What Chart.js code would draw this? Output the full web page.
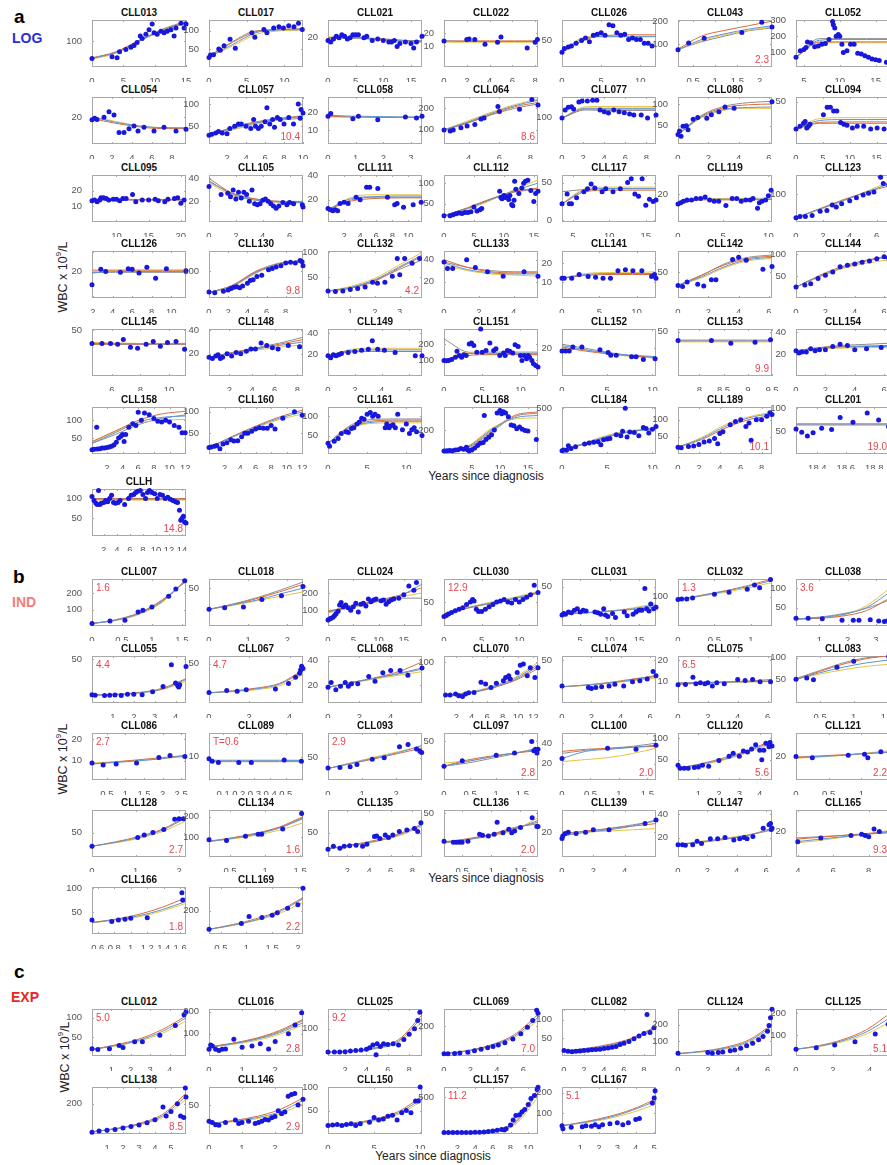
<!DOCTYPE html>
<html>
<head>
<meta charset="utf-8">
<script src="https://cdn.jsdelivr.net/npm/chart.js@4.4.1/dist/chart.umd.min.js"></script>
<style>
  body { margin:0; background:#fff; width:887px; height:1165px; overflow:hidden; position:relative; font-family:"Liberation Sans", Arial, sans-serif; }
  canvas { position:absolute; }
  .ttl { position:absolute; width:94px; text-align:center; font-weight:bold; font-size:10px; line-height:12px; color:#111; white-space:nowrap; }
  .lab { position:absolute; white-space:nowrap; }
  .rot { position:absolute; white-space:nowrap; font-size:12.5px; color:#222; transform:translate(-50%,-50%) rotate(-90deg); }
  .xl { position:absolute; white-space:nowrap; font-size:12px; color:#222; transform:translate(-50%,-50%); }
</style>
</head>
<body>
<div class="lab" style="left:14px;top:7px;font:bold 19px/19px 'Liberation Sans',Arial">a</div>
<div class="lab" style="left:12px;top:31px;font:bold 14px/14px 'Liberation Sans',Arial;color:#2b2bd9">LOG</div>
<div class="lab" style="left:13px;top:567px;font:bold 19px/19px 'Liberation Sans',Arial">b</div>
<div class="lab" style="left:12px;top:595px;font:bold 14px/14px 'Liberation Sans',Arial;color:#f47c7c">IND</div>
<div class="lab" style="left:14px;top:962px;font:bold 19px/19px 'Liberation Sans',Arial">c</div>
<div class="lab" style="left:11px;top:990px;font:bold 14px/14px 'Liberation Sans',Arial;color:#e8251e">EXP</div>
<div class="rot" style="left:62px;top:277px">WBC x 10<sup style="font-size:8px">9</sup>/L</div>
<div class="rot" style="left:62px;top:759px">WBC x 10<sup style="font-size:8px">9</sup>/L</div>
<div class="rot" style="left:64px;top:1057px">WBC x 10<sup style="font-size:8px">9</sup>/L</div>
<div class="xl" style="left:486px;top:476px">Years since diagnosis</div>
<div class="xl" style="left:486px;top:878px">Years since diagnosis</div>
<div class="xl" style="left:433px;top:1156px">Years since diagnosis</div>
<script>
// ---------- panel a (LOG) ----------
const namesA = ['CLL013','CLL017','CLL021','CLL022','CLL026','CLL043','CLL052',
  'CLL054','CLL057','CLL058','CLL064','CLL077','CLL080','CLL094',
  'CLL095','CLL105','CLL111','CLL112','CLL117','CLL119','CLL123',
  'CLL126','CLL130','CLL132','CLL133','CLL141','CLL142','CLL144',
  'CLL145','CLL148','CLL149','CLL151','CLL152','CLL153','CLL154',
  'CLL158','CLL160','CLL161','CLL168','CLL184','CLL189','CLL201','CLLH'];
const xRangeA = [[0,15],[0,12.5],[0,17],[0,8.25],[0,12],[0.16,2.28],[3.9,17],
  [0,9.4],[0.1,10],[0,3.4],[2.4,8.5],[0,8.9],[0,6.2],[0,17.5],
  [6.2,20.8],[0,7],[0,11.7],[0,15.7],[3.5,16.4],[0,10.4],[0,7],
  [1.9,11.5],[0,9.8],[0.1,3.9],[0,5.4],[0,12.6],[0,6.2],[0,6.4],
  [4.6,11.2],[0.2,8.5],[0,7],[0,12.3],[0,10.4],[7.56,9.5],[0,6.4],
  [0.1,12.1],[0,12.1],[0,12],[0,16.8],[0,10.4],[0,9],[18.25,18.91],[0.2,14.6]];
const yRangeA = [[0,180],[0,130],[0,32],[-6,30],[0,89],[0,205],[10,300],
  [5,31],[10,116],[2,29],[35,250],[40,145],[8,116],[5,55],
  [0,30],[2,43],[2,40],[5,120],[-2,60],[0,34],[35,145],
  [2,34],[0,175],[8,103],[5,48],[1.5,26.5],[5,87],[0,108],
  [2,51],[1,41],[0,44],[6,290],[0,34],[0,53],[0,43],
  [5,137],[2,111],[2,124],[0,390],[0,515],[0,137],[1,103],[5,124]];
const xTicksA = [[0,5,10,15],[0,5,10],[0,5,10,15],[0,2,4,6,8],[0,5,10],[0.5,1,1.5,2],[5,10,15],
  [0,2,4,6,8],[2,4,6,8,10],[0,1,2,3],[4,6,8],[0,2,4,6,8],[0,2,4,6],[0,5,10,15],
  [10,15,20],[0,2,4,6],[2,4,6,8,10],[0,5,10,15],[5,10,15],[0,5,10],[0,2,4,6],
  [2,4,6,8,10],[0,2,4,6,8],[1,2,3],[0,2,4],[0,5,10],[0,2,4,6],[0,2,4,6],
  [6,8,10],[2,4,6,8],[0,2,4,6],[0,5,10],[0,5,10],[8,8.5,9,9.5],[0,2,4,6],
  [2,4,6,8,10,12],[2,4,6,8,10,12],[0,5,10],[5,10,15],[0,5,10],[0,2,4,6,8],[18.4,18.6,18.8],[2,4,6,8,10,12,14]];
const yTicksA = [[100],[50,100],[20],[10,20],[50],[100,200],[100,200,300],
  [20],[50,100],[10,20],[100,200],[100],[50,100],[50],
  [10,20],[20,40],[20,40],[50,100],[0,50],[20],[100],
  [20],[100],[50,100],[20,40],[10,20],[50],[50,100],
  [50],[20,40],[20,40],[100,200],[20],[50],[20,40],
  [50,100],[50,100],[50,100],[200],[500],[50,100],[50,100],[50,100]];
const pointsA = [
  /*CLL013*/[0,33,3.2,39,4,35,4.4,58,5.4,67,6.2,76,6.7,82,7.2,94,7.7,119,8,109,8.6,125,9.1,143,9.6,165,9.9,131,10.4,125,11,137,11.5,131,12,137,12.6,143,13.1,119,13.4,149,14.2,168,14.7,149,15,165],
  /*CLL017*/[0,26,0.2,33,0.6,34,1.3,50,1.5,46,2,59,2.8,77,3.5,52,5.7,95,6.1,82,7.3,104,7.7,95,8.6,108,9.3,111,9.9,108,10.6,114,11.3,111,11.9,121,12.4,104],
  /*CLL021*/[0,18,0.5,17,1,19,1.5,21,2,20,2.5,22,3,21,3.5,19,4,20,4.5,22,5,22,5.5,22,6.5,20,7,21,8,18,9,19,10,18,11,17,11.5,17,12,18,12.5,14,13,16,14,17,15,16,15.5,13,16,17,17,21],
  /*CLL022*/[0,14,2,15,2.2,15.5,2.7,15,3.6,11.5,4.7,13,5,17,7.3,8.5,8,13,8.2,15],
  /*CLL026*/[0,28,0.3,35,0.8,38,1.2,40,1.8,45,2.5,50,3,55,3.5,48,4,60,4.5,62,5,65,5.5,60,6,80,6.5,78,7,65,7.5,60,8,62,8.5,52,9,55,9.5,52,10,52,10.5,45,11,45,11.5,40],
  /*CLL043*/[0.16,75,0.4,105,0.75,125,1.6,150,2.05,195,2.28,175],
  /*CLL052*/[3.9,70,4.5,110,5,118,5.3,130,5.5,165,6,160,6.5,135,7,140,7.5,150,8,155,8.5,180,9,290,9.1,270,9.3,250,9.5,200,9.8,210,10,200,10.3,150,10.5,100,11,110,11.5,150,12,150,12.5,95,13,90,13.5,80,14,70,14.5,60,15,55,15.5,50,16.5,40],
  /*CLL054*/[0,18.4,0.27,19.3,0.5,18.5,1.2,19.8,1.7,22.8,2.2,21,2.7,11.3,3.2,11.3,3.7,13.4,4.2,14.9,4.6,12.2,5.2,14.3,6.2,12.2,7.2,14.3,8.4,12.2,9.4,13.1],
  /*CLL057*/[0.1,30,0.4,32,0.8,35,1.1,38,1.5,35,2,33,2.3,45,2.8,50,3.2,55,3.5,55,4,50,4.5,45,4.8,65,5,50,5.3,45,5.6,50,6,60,6.2,92,6.5,55,6.8,65,7,48,7.3,70,7.6,65,8,55,8.5,70,9,55,9.5,100,9.7,68,9.8,88,10,80],
  /*CLL058*/[0,18,0.1,19.5,0.9,16.5,1.1,18,1.8,16,2.8,17.5,3.2,17,3.4,18],
  /*CLL064*/[2.4,99,2.8,94,3,99,3.5,109,3.9,117,4.4,124,4.8,149,5,154,5.9,206,6,184,7.3,194,8.1,238,8.5,213],
  /*CLL077*/[0,98,0.3,116,0.6,122,0.9,123,1.1,118,1.6,134,1.9,136,2.4,136,2.9,138,3.3,138,3.6,116,4,112,4.4,109,4.9,116,5.4,112,5.9,110,6.4,107,6.8,105,7.5,105,8.1,98,8.9,105],
  /*CLL080*/[0,30,0.1,38,0.2,26,0.33,49,0.55,50,0.66,41,1,65,1.3,69,1.9,67,2.2,75,2.7,82,3.1,93,3.7,90,6.2,105],
  /*CLL094*/[0,21,0.75,24,1.4,27,1.7,29,2,22,2.3,24,2.6,26,5.1,36,5.8,44,6.4,44,7,40,7.6,40,8.3,28,8.9,26,9.5,25,10.5,22,11.4,24,12.6,24,13.9,21,15.1,22,16.4,21],
  /*CLL095*/[6.2,13.5,6.6,14,7,13,7.4,14,7.6,15.5,8,15.5,8.4,15,8.8,14,9.5,14.5,10,14.5,10.5,13.5,11,15,11.5,15,12.5,17.5,13,13,14,14,15,14,16,14.5,16.5,13.5,17.5,13,18,14.5,19,15,19.5,15.5,20,12,20.5,14],
  /*CLL105*/[0,33,0.9,26,1.4,27,1.6,24,1.8,30,2,22,2.2,28,2.4,23,2.6,28,2.8,26,3,20,3.2,30,3.4,18,3.6,17,3.8,18,4,21,4.2,22,4.4,20,4.6,18,4.8,16,5,14,5.2,16,5.5,19,5.8,17,6,19,6.3,18,7,15,6.95,17],
  /*CLL111*/[0,13,0.3,12,0.6,11,0.9,12,1.2,11,1.5,17,2,18,2.5,17,3.5,22,4,20,4.8,30,5.2,30,6.2,29,7.4,22,8.3,16,8.6,17,9.4,14,10.6,16,11.6,18],
  /*CLL112*/[0,20,1,20,1.5,23,2,25,2.5,27,3,26,3.5,28,4,28,4.5,30,5,42,5.5,32,6,35,6.3,38,9.3,80,9.5,65,9.7,62,10,70,10.2,65,10.5,67,10.8,60,11,70,11.3,48,11.5,45,11.7,58,11.8,105,12,85,12.5,75,13,88,13.3,100,13.6,105,14,107,14.5,82,15,55,15.3,75,15.7,80],
  /*CLL117*/[3.5,22,4.2,35,4.5,22,4.8,22,5.5,30,6.5,38,7,42,7.5,48,8,43,9,38,9.5,42,10.5,38,11.5,42,12.5,50,13,55,13.5,35,14,32,14.5,55,15,20,15.5,28,16,25,16.4,27],
  /*CLL119*/[0,13,0.3,14,0.6,15,1,16,1.5,16,2,17,2.5,17,3,18,3.5,16,4,15,4.5,15,5.3,12,6,17,6.5,17,7,15,7.5,16,8,16,8.3,17,8.8,10,9,14,9.3,15,9.7,16,10,19,10.3,23],
  /*CLL123*/[0,45,0.3,48,0.7,48,1.2,50,1.8,60,2.3,62,2.7,75,3,70,3.4,78,4,85,4.5,92,5,98,5.4,102,5.8,105,6.3,140,6.5,125,6.9,122],
  /*CLL126*/[1.9,11,2.8,21.5,3.3,20,4.8,19.5,5.6,22,6,21.5,6.7,19,7.5,23,8.4,15.5,9.5,22,11.5,20.5],
  /*CLL130*/[0,22,0.6,20,1.5,25,2,30,2.3,35,2.6,40,2.9,42,3.2,38,3.5,45,4,55,4.3,65,4.6,68,5,80,5.5,85,6.2,105,6.6,110,7,115,7.5,120,8,130,8.5,133,9,130,9.5,140,9.7,135,9.8,120],
  /*CLL132*/[0.1,22,0.4,21,0.7,22,1,25,1.3,27,1.6,30,1.9,40,2.1,38,2.4,40,2.7,52,2.9,88,3,55,3.2,88,3.5,78,3.8,88],
  /*CLL133*/[0,38,0.2,32,0.5,32,1.3,40,1.8,33,2.5,29,3.4,25,4.6,29,5.4,25],
  /*CLL141*/[0,12,0.3,12,1.3,12,2.3,14,3.5,13,4.5,12.5,5.5,12,6.5,12,7.5,16,8.5,16.5,9.5,16,10.7,16,12,13,12.4,14,12.6,12],
  /*CLL142*/[0,27,0.3,25,0.6,33,1.3,29,1.7,26,2.2,37,2.5,37,3.6,72,4,76,4.5,71,5.6,55,6.2,60],
  /*CLL144*/[0,25,0.6,30,1,33,1.5,45,2,52,2.5,60,3,72,3.5,75,4,78,4.5,82,5,85,5.5,90,6,95,6.3,92],
  /*CLL145*/[4.6,36,5.3,36,5.9,36,6.4,35,6.8,40,7.3,32,7.8,31,8.4,35,8.9,38,9.4,33,9.9,37,10.5,38,11.1,30],
  /*CLL148*/[0.2,17,0.5,16,0.8,18,1,19,1.2,16,1.4,17,1.8,20,2.2,18,2.6,21,3,20,3.5,22,3.9,24,4.3,24,4.8,29,5.3,27,5.8,25,6.3,24,7.2,27,8.2,26],
  /*CLL149*/[0,19,0.2,17,0.4,20,0.6,19,0.8,20,1,21,1.5,22,2,23,2.5,24,3,25,3.3,33,3.7,25,4.2,24,5,22,6.5,19,7,19],
  /*CLL151*/[0,100,0.3,98,0.6,100,1,105,1.5,120,1.7,155,2,130,2.3,120,2.6,135,2.9,130,3.3,200,3.6,205,3.9,190,4.3,150,4.8,290,5,150,5.5,160,6,205,6.5,160,6.8,170,7.3,130,7.8,145,8,130,8.3,160,8.6,155,9,145,9.3,195,9.7,185,10,130,10.2,100,10.5,130,10.8,110,11,130,11.2,120,11.5,100,11.7,80,12,70,12.3,60],
  /*CLL152*/[0,18,0.4,18,0.8,18,1.2,21,2.2,21,4.2,19,5.1,17,5.4,15,6,15,7.7,14,8.2,14,9,12,10.3,12.5],
  /*CLL153*/[7.56,40,8.25,40,8.65,37,9.15,38,9.47,41],
  /*CLL154*/[0,23,0.2,21,0.4,22,0.7,22,1,25,1.3,23,1.6,24,2,24,2.5,27,3,29,3.5,28,4,24,4.8,25,5.8,26,6.4,27],
  /*CLL158*/[0.1,17,0.4,18,0.7,80,0.8,19,1.1,20,1.4,22,1.7,22,2,23,2.3,25,2.6,27,2.9,30,3.2,38,3.5,50,3.8,55,4,60,4.2,40,4.4,60,4.8,80,5.3,90,5.7,85,6,122,6.4,100,6.8,120,7.4,115,8,105,8.5,97,9,95,9.5,100,10,95,10.6,85,11.2,80,11.6,65,12,65],
  /*CLL160*/[0,17,0.3,18,0.7,20,1,22,1.4,14,1.8,25,2.3,28,2.8,35,3.2,32,3.7,33,4.2,42,4.6,50,5,50,5.5,55,6,60,6.5,63,7,62,7.5,62,8,68,8.5,60,9.5,85,11,100,12,92],
  /*CLL161*/[0,30,0.2,22,0.8,35,1.3,42,1.7,55,2.3,60,2.6,58,3,68,3.3,70,3.7,80,4,85,4.3,95,4.6,92,5,105,5.4,110,5.7,100,6,105,6.4,100,7.3,70,7.5,80,7.8,70,8,75,8.3,78,8.6,70,8.9,105,9.5,65,10,80,10.4,55,10.7,65,11,70,11.3,60,12,50],
  /*CLL168*/[0,25,0.5,27,1,30,1.5,28,2,33,2.5,35,3,45,3.5,40,4,55,4.2,35,4.5,25,5,35,5.5,50,6,70,6.5,90,7,95,7.2,320,7.5,120,8,140,8.5,160,9,200,9.5,340,10,360,10.3,335,10.6,350,11,340,11.5,310,12,240,12.5,235,13,210,13.5,225,14,205,14.5,195,15,190,16.5,120],
  /*CLL184*/[0,35,0.2,45,0.5,40,0.7,90,1,60,1.5,80,2.5,110,3,120,3.5,130,4,135,4.3,100,4.6,155,5,165,5.3,170,6,210,6.5,200,6.7,250,7,500,7.2,185,7.5,240,8,235,8.5,200,9,290,9.3,280,9.6,230,10,270,10.4,300],
  /*CLL189*/[0,20,0.3,18,1,22,1.5,23,2,28,2.5,35,3,38,3.5,45,3.8,30,4,60,4.3,65,5,85,5.5,95,6,100,6.5,80,6.8,90,7,40,7.5,100,8,100,8.5,110,8.8,120,9,115],
  /*CLL201*/[18.25,55,18.29,48,18.33,40,18.37,47,18.43,57,18.5,54,18.56,80,18.65,70,18.75,90,18.83,75,18.9,60],
  /*CLLH*/[0.2,105,0.5,95,0.8,88,1,85,1.2,120,1.4,85,1.6,88,2,90,2.3,95,2.6,92,2.9,100,3.2,108,3.5,90,3.8,88,4.2,90,4.5,95,5.2,85,5.8,100,6.2,108,6.6,110,6.9,115,7.2,118,7.6,120,8,110,8.4,100,8.7,115,9,120,9.4,115,9.8,112,10.2,100,10.6,110,11,108,11.4,100,11.8,103,12.2,98,12.6,95,13,92,13.3,90,13.6,70,13.8,45,14,50,14.2,55,14.4,40,14.6,38]
];
// fitted model curves, each sampled at 5 evenly spaced times across the axis
const fitsA = [
  [[33,55,100,140,170],[35,58,102,142,172],[30,52,98,138,168],[33,56,100,145,175]],
  [[28,62,95,103,105],[30,68,98,104,106],[28,58,90,100,103],[30,70,100,102,102]],
  [[20,20,19,18,17.5],[19.5,20,19.5,18.5,17],[20.5,20,18.5,17.5,17],[20,19.5,19,18,18]],
  [[14,13.5,13.5,13.5,13.5],[14,14,14,14,14],[13,13,13,13,13]],
  [[28,55,58,58,58],[28,52,60,61,61],[28,57,57,57,57]],
  [[75,120,145,165,180],[78,135,160,180,200],[75,115,140,160,175],[76,110,135,158,170]],
  [[70,175,180,180,180],[70,165,165,165,165],[70,160,160,160,160],[70,185,185,185,185]],
  [[20,17,15,14,14],[19,16.5,14.5,13.5,13.5],[20,17.5,15,14,13.5]],
  [[30,45,58,66,72],[30,48,60,68,73],[30,42,55,65,75],[30,46,57,64,68]],
  [[18.5,18,17.8,17.6,17.5],[18,17.5,17.3,17.2,17.2],[17.5,17.5,17.5,17.5,17.5]],
  [[100,135,175,210,235],[98,130,170,205,225],[100,140,180,215,240],[100,132,168,198,218]],
  [[98,120,120,120,120],[98,118,118,118,118],[98,123,124,124,124],[98,116,115,115,115]],
  [[30,70,88,92,93],[30,72,92,98,100],[30,68,86,90,90],[30,74,95,103,106]],
  [[21,30,31,31,31],[21,28,28.5,28.5,28.5],[21,32,33,33,33],[21,27,27,27,27]],
  [[14,14.2,14.3,14.3,14.3],[13.8,14,14,14,14],[14.5,14.5,14.5,14.5,14.5]],
  [[38,26,21,19.5,19],[40,27,22,20,19.5],[36,25,21,19,18.5],[37,27,22,20,20]],
  [[12,21,22.5,23,23],[12,19,21,21.5,21.5],[12,22,24,24,24],[12,20,22,22,22]],
  [[20,38,60,82,100],[20,40,62,80,88],[20,36,58,84,108],[20,39,61,78,85]],
  [[22,40,42,42,42],[22,38,40,40,40],[22,42,44,44,44],[38,41,42,42,42]],
  [[13,16.5,16.5,16.5,16.5],[13,16,16,16,16.5],[13,17,17,17,17.5]],
  [[45,65,85,105,125],[45,66,87,105,120],[45,64,84,107,130]],
  [[19,20,20,20,20],[21,21,21,21,21],[20,20.5,20.5,20.5,20.5],[19.5,19.5,19.5,19.5,19.5]],
  [[20,45,95,128,140],[20,48,100,130,138],[20,42,92,126,142],[20,46,97,125,135]],
  [[22,30,45,70,95],[22,28,42,68,92],[22,32,48,74,100],[22,29,44,65,85]],
  [[37,31,28,27,27],[40,33,29,28,28],[35,30,27,26,25],[38,33,30,29,29]],
  [[12,14,14.5,14.5,14.5],[12,13.5,14,14,14],[12,14.5,15,15,15.5]],
  [[27,42,60,72,76],[27,45,63,74,78],[27,40,58,70,74],[27,44,65,76,80]],
  [[25,50,70,85,95],[25,52,73,87,97],[25,48,68,80,88]],
  [[36,35.5,35.5,35.5,35.5],[35,35,35,35,35],[37,36.5,36,36,36],[36,36,35.8,35.8,35.8]],
  [[17,20.5,24,27,30],[17,21,24.5,28,32],[17,20,23,25.5,27.5],[17,21,25,29,34]],
  [[19,24,24.5,24.5,24.5],[19,23,23,23,23],[19,25,26,26,26],[19,22.5,23,23,23]],
  [[100,140,145,145,145],[100,130,135,135,135],[100,150,152,152,152],[230,150,140,140,140]],
  [[22,19,16.5,15,14],[21,18,16,14.5,13.5],[20,18.5,16,14,13],[23,20,17,14.5,13]],
  [[39.5,39.5,39.5,39.5,39.5],[40.5,40.5,40.5,40.5,40.5],[38.5,38.5,38.5,38.5,38.5]],
  [[23,25.5,26.5,27,27],[23,26,27,27.5,28],[23,25,25.5,26,26],[23,26,28,29,30]],
  [[35,65,95,108,112],[40,70,100,118,125],[38,68,92,100,102],[35,60,88,105,115]],
  [[17,42,65,85,100],[17,43,67,88,104],[17,41,63,82,95]],
  [[30,72,85,87,87],[30,75,88,90,90],[30,70,82,83,83],[30,78,92,93,93]],
  [[30,60,200,300,320],[30,55,190,320,350],[30,65,210,290,300],[30,50,180,310,340]],
  [[40,120,200,250,270],[40,110,190,250,285],[40,125,210,260,275]],
  [[20,45,80,105,118],[20,42,75,100,112],[20,48,85,108,122]],
  [[66,66,66,66,66],[64,64,64,64,64],[67,67,67,67,67]],
  [[98,98,98,98,98],[100,100,100,100,100],[96,96,96,96,96]]
];
const notesA = { CLL043:['2.3','br'], CLL057:['10.4','br'], CLL064:['8.6','br'], CLL130:['9.8','br'], CLL132:['4.2','br'],
  CLL153:['9.9','br'], CLL189:['10.1','br'], CLL201:['19.0','br'], CLLH:['14.8','br'] };

// ---------- panel b (IND) ----------
const namesB = ['CLL007','CLL018','CLL024','CLL030','CLL031','CLL032','CLL038',
  'CLL055','CLL067','CLL068','CLL070','CLL074','CLL075','CLL083',
  'CLL086','CLL089','CLL093','CLL097','CLL100','CLL120','CLL121',
  'CLL128','CLL134','CLL135','CLL136','CLL139','CLL147','CLL165',
  'CLL166','CLL169'];
const xRangeB = [[0,1.57],[0,2.4],[0,18.6],[0,12.5],[1.9,17.9],[0,1.29],[0.17,3.5],
  [0,4.5],[0,4.67],[0,6],[0.4,12.6],[0,6.4],[0,6.3],[0.14,1.54],
  [0.1,2.63],[0.01,0.61],[0,2.76],[0,1.8],[0,1.65],[0,4.6],[0,1.44],
  [0,2.16],[0.2,1.54],[0.2,8.9],[0.19,1.8],[0,6],[0,6.4],[3.9,9.2],
  [0.53,1.67],[0.27,2.1]];
const yRangeB = [[0,285],[0,62],[10,280],[0,98],[0,60],[0,160],[2,124],
  [0,54],[0,60],[5,44],[0,116],[0,55],[0,22],[-5,104],
  [1,23],[0,20],[0,106],[0,61],[4,50],[3,112],[0,40],
  [0,96],[5,232],[0,96],[0,54],[0,38],[3.5,43.5],[0,37],
  [4,102],[0,400]];
const xTicksB = [[0,0.5,1,1.5],[0,1,2],[0,5,10,15],[0,5,10],[5,10,15],[0,0.5,1],[1,2,3],
  [1,2,3,4],[0,2,4],[0,2,4],[2,4,6,8,10,12],[0,2,4,6],[0,2,4,6],[0.5,1,1.5],
  [0.5,1,1.5,2,2.5],[0.1,0.2,0.3,0.4,0.5],[0,1,2],[0,0.5,1,1.5],[0,0.5,1,1.5],[1,2,3,4],[0,0.5,1],
  [0,1,2],[0.5,1,1.5],[2,4,6,8],[0.5,1,1.5],[0,2,4],[0,2,4,6],[4,6,8],
  [0.6,0.8,1,1.2,1.4,1.6],[0.5,1,1.5,2]];
const yTicksB = [[100,200],[50],[100,200],[50],[50],[100],[50,100],
  [50],[50],[20,40],[100],[50],[10,20],[50,100],
  [10,20],[10],[50],[50],[20,40],[50,100],[20],
  [50],[100,200],[50],[50],[20],[20,40],[20],
  [50,100],[200]];
const pointsB = [
  /*CLL007*/[0,15,0.3,30,0.55,35,0.77,85,0.85,95,1,115,1.28,180,1.4,225,1.55,275],
  /*CLL018*/[0,22,0.4,24,0.88,25,1.35,35,1.85,40,2.4,52],
  /*CLL024*/[0,45,0.3,50,0.6,55,1,60,1.3,70,1.6,80,2,95,2.3,130,2.6,145,3,120,3.5,130,4,115,4.5,100,5,120,5.5,140,6,90,6.5,135,7,140,7.5,125,8,165,8.5,150,9,160,9.5,165,10.5,155,11,160,11.5,135,12,150,12.5,160,13,165,14,170,15,190,16,240,17,215,17.5,260],
  /*CLL030*/[0,20,0.3,22,0.6,25,1,28,1.5,32,2,35,2.5,38,3,45,3.5,50,3.8,55,4,52,4.3,35,4.6,30,5,30,5.5,35,6,40,6.5,45,7,50,7.5,52,8,55,8.5,50,9,48,9.5,55,10,50,10.5,55,11,60,11.5,65,12,85,12.5,70],
  /*CLL031*/[1.9,14,2.2,16,2.5,15,3,18,3.5,17,4,20,4.5,22,5,18,5.5,20,6,19,7.5,18,8,17,8.5,15,9,22,9.3,14,9.7,12,10.5,16,11,11,12.5,18,13,13,14,15,14.5,18,15,20,15.5,20,16,48,16.3,22,16.7,19,17,28,17.5,22,17.9,24],
  /*CLL032*/[0,90,0.05,92,0.12,92,0.2,95,0.5,108,0.7,115,0.95,125,1.05,140,1.12,130,1.27,158],
  /*CLL038*/[0.17,22,0.6,22,1.1,21,1.8,17,2.2,17,2.4,17,2.8,18,3.1,15,3.3,14,3.4,15,3.5,17],
  /*CLL055*/[0,9.5,0.15,9,0.6,8.5,0.85,9,1.1,9.2,1.4,8.5,1.7,10,2,10,2.4,9.5,2.9,13,3.4,19,3.8,44,4,23,4.1,20,4.15,18.5,4.2,21,4.5,42],
  /*CLL067*/[0,13.5,0.88,16,1.4,15,1.85,17,3.3,18,3.95,25,4.3,33,4.5,38,4.55,42,4.6,47,4.67,44],
  /*CLL068*/[0,18,0.2,22,0.5,16,0.8,19,1.1,22,1.3,19,1.5,21,1.9,21,2.6,27,3,23,3.5,30,4,32,4.6,32,5.1,28,6,34],
  /*CLL070*/[0.6,20,1.2,20,1.9,22,2.3,18,2.8,16,3.2,22,3.6,25,4.3,26,5.2,51,5.8,47,6.5,38,7.2,49,8.1,55,8.4,63,8.8,67,9,59,9.9,75,10.3,93,10.7,96,11.2,67,11.6,87,12.2,63,12.6,87],
  /*CLL074*/[0,20,1.8,18,2,17,2.3,18,2.7,19,3.2,20,3.6,22,4.2,20,4.8,25,5.3,26,5.8,28,6.2,37,6.4,32],
  /*CLL075*/[0,8.5,0.5,8.7,1,12,1.2,9,1.5,9.5,1.8,9,2,9.5,2.3,8,2.6,9.5,3.1,9,4,11,4.5,10.5,5,11,5.5,10,6.2,10],
  /*CLL083*/[0.14,50,0.3,53,0.4,49,0.75,78,1,92,1.52,103],
  /*CLL086*/[0.1,9,0.4,8,0.75,8.5,1.3,9,1.9,11.5,2.2,12.5,2.6,12],
  /*CLL089*/[0.01,9,0.03,8,0.07,7.5,0.2,7.5,0.28,7.5,0.49,8.5,0.6,8],
  /*CLL093*/[0,27,0.35,28,0.65,30,0.85,35,1.3,47,1.65,50,2.1,75,2.35,80,2.6,70,2.7,65,2.75,62],
  /*CLL097*/[0,18,0.35,25,1,32,1.35,35,1.68,50,1.72,38,1.75,40,1.78,35,1.8,40],
  /*CLL100*/[0,25,0.8,35,1.3,34,1.65,38],
  /*CLL120*/[0,37,0.1,30,0.3,30,0.5,30,0.8,32,1,33,1.2,37,1.5,35,2,48,2.5,58,2.7,65,3,58,3.2,70,3.4,68,3.6,75,3.8,85,4,72,4.1,50,4.2,72,4.3,88,4.45,80,4.5,90,4.6,82],
  /*CLL121*/[0,20,0.25,19,0.8,21,1.05,22,1.1,19,1.3,24,1.44,24],
  /*CLL128*/[0,22,1.05,40,1.2,45,1.4,50,1.65,56,1.9,77,2,78,2.1,78],
  /*CLL134*/[0.2,88,0.45,85,0.72,105,0.9,115,0.95,115,1.25,140,1.52,215],
  /*CLL135*/[0.2,16,0.7,22,1.3,18,1.7,22,2.2,23,2.8,24,3.4,22,3.8,26,4.5,42,4.7,43,5,38,5.5,45,5.8,40,6.2,45,6.8,52,7.5,55,8.2,58,8.5,52,8.8,70],
  /*CLL136*/[0.19,18,0.35,17,0.4,17,0.45,17,0.5,17,0.6,18,0.8,26,0.85,25,0.95,24,1.05,26,1.1,40,1.2,28,1.3,32,1.35,28,1.4,30,1.5,34,1.7,45,1.78,35,1.8,35],
  /*CLL139*/[0,15,0.05,17,0.2,19,0.4,20,0.9,19,1.5,20,2,22,3,22,5.3,27,6,30],
  /*CLL147*/[0,14,0.3,14,0.5,13.5,1,14,1.3,17,1.6,15,2.2,19,2.7,19,3.2,20,3.8,18,4.2,19,4.5,20,4.7,19,5.1,21,5.8,28,6.2,31,6.3,32,6.35,27,6.4,28],
  /*CLL165*/[4,12,5.3,15,7,17,7.6,18,7.8,17,8,16,8.3,22,8.6,20,9.2,20],
  /*CLL166*/[0.53,33,0.77,30,0.85,33,0.93,35,1,37,1.2,38,1.62,90,1.63,75],
  /*CLL169*/[0.27,40,0.9,90,1.05,150,1.3,140,1.5,160,1.6,180,1.8,220,2,250,2.1,390]
];
const fitsB = [
  [[15,35,75,150,280],[15,38,80,155,275],[15,33,70,145,285],[15,36,78,160,270]],
  [[22,28,34,42,50],[22,28,36,45,55],[22,27,33,39,45],[22,29,37,47,58]],
  [[90,120,150,180,250],[95,125,155,185,230],[85,115,145,175,200],[95,120,150,170,170]],
  [[25,38,48,58,70],[25,37,47,57,68],[27,39,50,60,72]],
  [[15,17,19,22,27],[16,17,19,21,24],[15,16.5,19,23,29]],
  [[90,103,118,135,155],[90,105,120,138,160],[90,102,115,130,148]],
  [[20,24,32,50,90],[20,22,28,42,75],[18,23,30,55,100],[20,25,34,48,70]],
  [[9,9.5,11.5,16,27],[9,10,12,17,28],[9.5,10,12,15.5,25]],
  [[13,15,18,24,40],[13,15.5,19,25,42],[13,14.5,17,22,36]],
  [[18,22,25.5,29.5,34],[18,22,26,31,39],[18,21.5,25,28,31],[18,22,25.5,29,33]],
  [[18,25,38,60,95],[18,24,36,57,90],[18,26,40,63,100],[18,25,37,55,85]],
  [[19,21,23.5,27,31],[19,21,24,28,32],[19,20.5,23,26,29]],
  [[9,9.5,9.8,10,10.2],[8.7,9.3,9.8,10.3,11],[9,9.2,9.5,9.8,10],[9.5,9.6,9.8,10,10.3]],
  [[50,65,78,88,95],[50,68,85,98,105],[50,62,72,80,85],[52,70,88,100,104]],
  [[8.5,9.2,10,11,12.5],[8.5,9.5,10.5,11.5,12.5],[9,9.5,10.2,11,12]],
  [[8.2,8.2,8.2,8.2,8.3],[7.8,7.8,7.8,7.8,7.8],[8.5,8.5,8.5,8.5,8.5]],
  [[26,38,50,62,78],[26,37,48,60,72],[26,39,52,64,76]],
  [[18,24,30,35,40],[18,26,31,35,38],[22,25,30,35,41],[18,22,28,34,42]],
  [[25,32,34,36,38],[32,34,35,36,37],[22,24,26,30,35],[30,33,35,37,40]],
  [[30,40,52,70,92],[30,41,55,72,95],[30,39,50,67,88]],
  [[19,20,21,22.5,24],[19.5,20.5,21.5,22.5,23.5],[18.5,19.5,21,23,25]],
  [[22,30,40,55,80],[22,31,42,57,82],[22,29,38,52,74]],
  [[80,95,115,145,190],[82,98,120,150,200],[80,93,110,135,170],[80,96,118,148,195]],
  [[17,24,32,45,65],[17,25,34,47,67],[17,23,31,43,62]],
  [[17,20,25,32,42],[17,21,26,33,40],[18,20,24,31,45],[16,20,26,34,38]],
  [[17,20,22,25,30],[19,21,23,25,27],[18,20,21,22,23],[17,20.5,23,26,29]],
  [[14,16.5,19,22,27],[14,16,18.5,22,28],[14,17,19.5,22.5,26]],
  [[12,14,16,18,20],[14,15.5,17,18.5,20],[11,13,15.5,18,21],[15,16,17,18,19]],
  [[28,34,42,55,72],[28,35,45,60,80],[27,33,40,52,68]],
  [[40,75,120,190,300],[40,80,130,200,310],[40,72,115,175,270]]
];
const notesB = { CLL007:['1.6','tl'], CLL030:['12.9','tl'], CLL032:['1.3','tl'], CLL038:['3.6','tl'], CLL055:['4.4','tl'],
  CLL067:['4.7','tl'], CLL075:['6.5','tl'], CLL086:['2.7','tl'], CLL089:['T=0.6','tl'], CLL093:['2.9','tl'],
  CLL097:['2.8','br'], CLL100:['2.0','br'], CLL120:['5.6','br'], CLL121:['2.2','br'], CLL128:['2.7','br'],
  CLL134:['1.6','br'], CLL136:['2.0','br'], CLL165:['9.3','br'], CLL166:['1.8','br'], CLL169:['2.2','br'] };

// ---------- panel c (EXP) ----------
const namesC = ['CLL012','CLL016','CLL025','CLL069','CLL082','CLL124','CLL125',
  'CLL138','CLL146','CLL150','CLL157','CLL167'];
const xRangeC = [[0,4.85],[0,2.84],[0.4,9.2],[0,7.1],[-0.2,9.2],[0,6.3],[0,5.1],
  [0.06,5.94],[0,2.85],[0,10.2],[0.5,11.1],[0,5.1]];
const yRangeC = [[1,123],[0,212],[0,172],[0,318],[0,130],[14,292],[4,220],
  [0,312],[0,81],[0,100],[0,635],[0,228]];
const xTicksC = [[1,2,3,4],[0,1,2],[2,4,6,8],[0,2,4,6],[0,2,4,6,8],[0,2,4,6],[0,2,4],
  [1,2,3,4,5],[0,1,2],[0,5,10],[2,4,6,8,10],[1,2,3,4,5]];
const yTicksC = [[50,100],[100,200],[100],[200],[50,100],[100,200],[100,200],
  [200],[50],[50,100],[500],[100,200]];
const pointsC = [
  /*CLL012*/[0,20,0.3,18,0.9,20,1.4,28,1.6,23,2.2,38,2.6,38,3.5,55,4.3,80,4.75,108,4.85,115],
  /*CLL016*/[0,30,0.05,50,0.1,45,0.2,30,0.3,25,0.4,30,0.5,32,0.75,75,1,40,1.3,45,1.55,55,1.8,32,2,65,2.4,100,2.6,140,2.8,195],
  /*CLL025*/[0.4,15,1,15,1.5,15,2,16,2.5,18,3,20,3.5,22,4,25,4.3,30,4.6,40,4.9,5,5,45,5.3,35,5.6,45,6,42,6.5,45,7,40,7.5,60,8,80,8.5,100,8.8,130,9,160],
  /*CLL069*/[0,15,0.3,15,0.8,17,1.2,20,1.8,25,2.3,35,2.8,45,3.3,55,3.7,65,4.1,75,4.6,90,5.2,115,5.8,150,6.3,195,6.7,240,7,310,7.1,290],
  /*CLL082*/[0,15,0.4,13,0.8,12,1.2,13,1.6,14,2,15,2.4,16,2.8,17,3.2,18,3.6,19,4,21,4.4,22,4.8,24,5.2,26,5.6,32,6,35,6.5,40,7,48,7.5,55,8,62,8.3,115,8.6,65,9,78],
  /*CLL124*/[0,30,2,35,2.3,30,2.7,35,3,38,3.5,45,3.8,50,4.2,60,4.6,75,5,90,5.4,110,5.7,130,6,160,6.1,195,6.2,240,6.3,290],
  /*CLL125*/[0,35,1.1,42,2.1,55,3.2,70,4.3,105,5,150],
  /*CLL138*/[0.06,12,0.5,20,1,25,1.5,30,2,40,2.5,50,3,60,3.5,75,4,95,4.5,180,4.7,120,5,150,5.4,200,5.6,120,5.8,110,5.9,305,5.94,245],
  /*CLL146*/[0,22,0.1,20,0.2,16,0.3,15,0.5,20,0.8,24,0.9,18,1,20,1.2,22,1.4,18,1.5,20,1.6,22,1.7,25,1.8,24,1.9,28,2,30,2.1,40,2.2,35,2.3,38,2.4,65,2.5,68,2.6,70,2.7,50,2.85,60],
  /*CLL150*/[0,18,0.5,19,1,20,1.5,18,2,20,2.5,22,3,18,3.5,22,4.5,25,5,35,5.5,30,6,32,6.5,38,7,40,7.5,30,8,45,8.5,50,9,45,9.5,70,9.8,70,10,100],
  /*CLL157*/[0.5,20,1,20,1.5,20,2,20,2.5,20,3,20,3.5,20,4,22,4.5,25,5,28,5.5,35,6,40,6.5,50,7,60,7.3,55,7.5,70,8,120,8.3,190,8.6,250,9,260,9.3,300,9.6,330,10,400,10.3,480,10.7,520,11,600,11.1,630],
  /*CLL167*/[0,40,0.05,25,0.5,33,1.1,35,1.3,40,1.6,38,1.8,45,2,35,2.2,45,2.6,50,3,55,3.3,45,3.6,55,4,70,4.2,75,4.9,150,5,175,5.05,210]
];
const fitsC = [
  [[18,28,42,65,100],[18,30,45,70,105],[18,27,40,60,92]],
  [[40,55,75,105,150],[40,58,80,115,165],[38,52,70,98,140],[42,56,78,110,160]],
  [[14,18,28,55,140],[14,19,30,60,150],[14,17,26,50,125]],
  [[15,35,70,135,260],[15,37,75,145,280],[15,33,65,125,240]],
  [[13,20,30,48,80],[13,21,32,50,82],[13,19,28,45,76]],
  [[28,40,60,100,190],[28,42,65,108,200],[28,38,55,92,175]],
  [[35,50,75,115,180],[35,52,80,125,200],[35,48,70,105,160]],
  [[15,35,65,120,250],[15,36,70,130,270],[15,33,60,110,230]],
  [[18,22,28,38,58],[18,23,30,42,62],[18,21,26,35,52]],
  [[17,22,30,45,75],[17,23,32,48,80],[17,21,28,42,70]],
  [[15,20,45,140,560],[15,22,50,160,600],[15,19,40,120,500]],
  [[40,58,80,115,160],[40,60,85,120,170],[40,55,75,105,145]]
];
const notesC = { CLL012:['5.0','tl'], CLL016:['2.8','br'], CLL025:['9.2','tl'], CLL069:['7.0','br'], CLL125:['5.1','br'],
  CLL138:['8.5','br'], CLL146:['2.9','br'], CLL157:['11.2','tl'], CLL167:['5.1','tl'] };

// ---------- layout ----------
const COL_X = [92, 209, 328, 444, 562, 678, 796];
const ROWS_A = [20, 97, 175, 251, 329, 407, 489];
const ROWS_B = [579, 656, 733, 810, 887];
const ROWS_C = [1009, 1087];
const BOX_W = 94, BOX_H = 47, Y_W = 26, X_H = 15, PAD_T = 9, PAD_R = 10;
const FIT_COLORS = ['#5b94d9', '#de6b36', '#e6c340', '#8e8e8e', '#63ad50'];

Chart.defaults.font.family = '"Liberation Sans", Arial, sans-serif';

const framePlugin = {
  id: 'frame',
  beforeDatasetsDraw(chart) {
    const { ctx, chartArea: a, scales } = chart;
    ctx.save();
    ctx.strokeStyle = '#a8a8a8';
    ctx.lineWidth = 1;
    ctx.strokeRect(a.left + 0.5, a.top + 0.5, a.width - 1, a.height - 1);
    ctx.beginPath();
    scales.x.ticks.forEach(t => {
      const px = Math.round(scales.x.getPixelForValue(t.value)) + 0.5;
      ctx.moveTo(px, a.bottom); ctx.lineTo(px, a.bottom - 2);
      ctx.moveTo(px, a.top); ctx.lineTo(px, a.top + 2);
    });
    scales.y.ticks.forEach(t => {
      const py = Math.round(scales.y.getPixelForValue(t.value)) + 0.5;
      ctx.moveTo(a.left, py); ctx.lineTo(a.left + 2, py);
      ctx.moveTo(a.right, py); ctx.lineTo(a.right - 2, py);
    });
    ctx.stroke();
    ctx.restore();
  },
  afterDraw(chart, args, opts) {
    if (!opts.note) return;
    const { ctx, chartArea: a } = chart;
    const [text, corner] = opts.note;
    ctx.save();
    ctx.fillStyle = '#e3474f';
    ctx.font = '10px "Liberation Sans", Arial, sans-serif';
    if (corner === 'tl') {
      ctx.textAlign = 'left'; ctx.textBaseline = 'top';
      ctx.fillText(text, a.left + 4, a.top + 4);
    } else {
      ctx.textAlign = 'right'; ctx.textBaseline = 'bottom';
      ctx.fillText(text, a.right - 3, a.bottom - 2);
    }
    ctx.restore();
  }
};

function makePanel(name, left, top, xr, yr, xt, yt, pts, fits, note) {
  const title = document.createElement('div');
  title.className = 'ttl';
  title.textContent = name;
  title.style.left = left + 'px';
  title.style.top = (top - 13) + 'px';
  document.body.appendChild(title);

  const cv = document.createElement('canvas');
  cv.width = Y_W + BOX_W + PAD_R;
  cv.height = PAD_T + BOX_H + X_H;
  cv.style.left = (left - Y_W) + 'px';
  cv.style.top = (top - PAD_T) + 'px';
  document.body.appendChild(cv);

  const scatter = [];
  for (let k = 0; k < pts.length; k += 2) scatter.push({ x: pts[k], y: pts[k + 1] });
  const datasets = [{ data: scatter, pointRadius: 2.5, pointBackgroundColor: '#1717dd', pointBorderWidth: 0, clip: 4 }];
  fits.forEach((f, j) => datasets.push({
    data: f.map((v, k) => ({ x: xr[0] + (xr[1] - xr[0]) * k / (f.length - 1), y: v })),
    showLine: true, pointRadius: 0, borderColor: FIT_COLORS[j % FIT_COLORS.length], borderWidth: 1,
    cubicInterpolationMode: 'monotone'
  }));

  const tickFont = { size: 9.5 };
  new Chart(cv, {
    type: 'scatter',
    data: { datasets },
    options: {
      responsive: false, animation: false, devicePixelRatio: 1, events: [],
      layout: { padding: { top: PAD_T, right: PAD_R, left: 0, bottom: 0 } },
      plugins: { legend: { display: false }, tooltip: { enabled: false }, frame: { note } },
      scales: {
        x: {
          type: 'linear', min: xr[0], max: xr[1],
          grid: { display: false }, border: { display: false },
          afterBuildTicks: s => { s.ticks = xt.map(v => ({ value: v })); },
          afterFit: s => { s.height = X_H; },
          ticks: { autoSkip: false, maxRotation: 0, padding: 1, color: '#555', font: tickFont, callback: v => String(v) }
        },
        y: {
          type: 'linear', min: yr[0], max: yr[1],
          grid: { display: false }, border: { display: false },
          afterBuildTicks: s => { s.ticks = yt.map(v => ({ value: v })); },
          afterFit: s => { s.width = Y_W; },
          ticks: { autoSkip: false, padding: 2, color: '#555', font: tickFont, callback: v => String(v) }
        }
      }
    },
    plugins: [framePlugin]
  });
}

function drawSection(names, xr, yr, xt, yt, pts, fits, notes, rows) {
  names.forEach((n, i) => {
    const r = Math.floor(i / 7), c = i % 7;
    makePanel(n, COL_X[c], rows[r], xr[i], yr[i], xt[i], yt[i], pts[i], fits[i], notes[n] || null);
  });
}

drawSection(namesA, xRangeA, yRangeA, xTicksA, yTicksA, pointsA, fitsA, notesA, ROWS_A);
drawSection(namesB, xRangeB, yRangeB, xTicksB, yTicksB, pointsB, fitsB, notesB, ROWS_B);
drawSection(namesC, xRangeC, yRangeC, xTicksC, yTicksC, pointsC, fitsC, notesC, ROWS_C);
</script>
</body>
</html>
